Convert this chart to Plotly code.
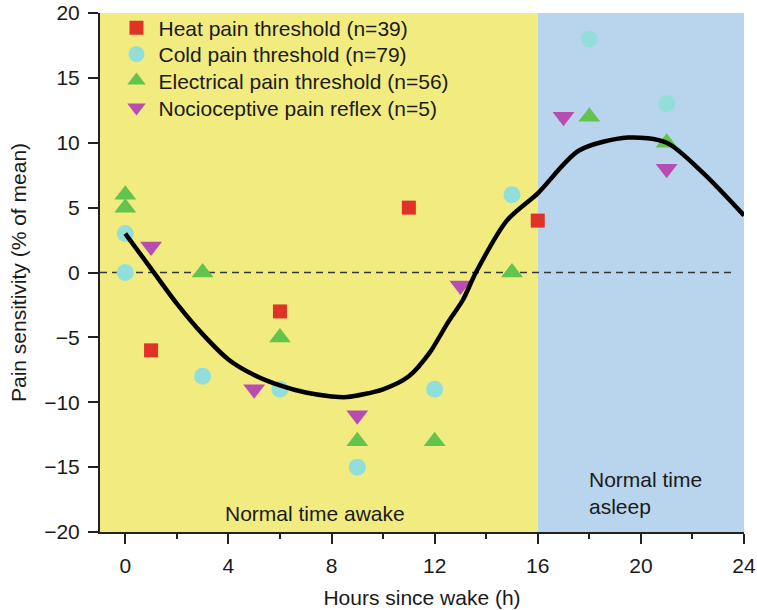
import plotly.graph_objects as go

# ---- data ----
heat_x = [1, 6, 11, 16]
heat_y = [-6, -3, 5, 4]

cold_x = [0, 0, 3, 6, 9, 12, 15, 18, 21]
cold_y = [3, 0, -8, -9, -15, -9, 6, 18, 13]

elec_x = [0, 0, 3, 6, 9, 12, 15, 18, 21]
elec_y = [6, 5, 0, -5, -13, -13, 0, 12, 10]

noci_x = [1, 5, 9, 13, 17, 21]
noci_y = [2, -9, -11, -1, 12, 8]

fit_x = [0, 1, 2, 3, 4, 5, 6, 7, 8, 8.6, 10, 11, 11.8, 12.5, 13.1, 13.6, 14.8, 16, 17.6, 19.5, 21, 22.4, 24]
fit_y = [3, 0.3, -2.4, -4.75, -6.7, -7.9, -8.7, -9.25, -9.55, -9.6, -9.0, -8.0, -6.2, -3.9, -2.1, 0, 4.0, 6.1, 9.4, 10.4, 10.0, 7.7, 4.4]

x_ticks = [0, 4, 8, 12, 16, 20, 24]
y_ticks = [-20, -15, -10, -5, 0, 5, 10, 15, 20]

awake_span = [-0.98, 16]
asleep_span = [16, 24]

FONT = "Liberation Sans, Arial, Helvetica, sans-serif"
FS = 21
TXT = "#1a1a1a"

fig = go.Figure()

fig.add_trace(go.Scatter(x=heat_x, y=heat_y, mode="markers", name="Heat pain threshold (n=39)",
                         legend="legend",
                         marker=dict(symbol="square", size=14, color="rgb(224,50,38)")))
fig.add_trace(go.Scatter(x=cold_x, y=cold_y, mode="markers", name="Cold pain threshold (n=79)",
                         legend="legend2",
                         marker=dict(symbol="circle", size=17, color="rgb(146,222,218)")))
fig.add_trace(go.Scatter(x=elec_x, y=elec_y, mode="markers", name="Electrical pain threshold (n=56)",
                         legend="legend3",
                         marker=dict(symbol="triangle-up", size=19, color="rgb(98,196,76)")))
fig.add_trace(go.Scatter(x=noci_x, y=noci_y, mode="markers", name="Nocioceptive pain reflex (n=5)",
                         legend="legend4",
                         marker=dict(symbol="triangle-down", size=19, color="rgb(184,76,176)")))
fig.add_trace(go.Scatter(x=fit_x, y=fit_y, mode="lines", showlegend=False,
                         line=dict(color="black", width=4.5, shape="spline", smoothing=0.8)))

# background regions
fig.add_shape(type="rect", xref="x", yref="y", x0=awake_span[0], x1=awake_span[1], y0=-20, y1=20,
              fillcolor="rgb(242,236,128)", line_width=0, layer="below")
fig.add_shape(type="rect", xref="x", yref="y", x0=asleep_span[0], x1=asleep_span[1], y0=-20, y1=20,
              fillcolor="rgb(185,213,238)", line_width=0, layer="below")
# zero line
fig.add_shape(type="line", xref="x", yref="y", x0=awake_span[0], x1=23.6, y0=0, y1=0,
              line=dict(color="rgb(50,55,60)", width=1.4, dash="7px,5px"), layer="below")

fig.add_annotation(x=7.37, y=-18.6, xref="x", yref="y", text="Normal time awake", showarrow=False,
                   font=dict(family=FONT, size=FS, color=TXT))
fig.add_annotation(x=17.9, y=-17.0, xref="x", yref="y", text="Normal time<br>asleep", showarrow=False,
                   xanchor="left", align="left", font=dict(family=FONT, size=FS, color=TXT))

row_centers_px = [28, 54.5, 81, 108]
plot_top, plot_h = 13, 519.3


def leg(py):
    return dict(x=0.0225, y=1 - (py - plot_top) / plot_h, xanchor="left", yanchor="middle",
                bgcolor="rgba(0,0,0,0)", borderwidth=0, itemwidth=34, itemsizing="trace",
                font=dict(family=FONT, size=FS, color=TXT))


fig.update_layout(
    width=757, height=610,
    margin=dict(l=100, r=13, t=13, b=78, autoexpand=False),
    paper_bgcolor="white", plot_bgcolor="white",
    font=dict(family=FONT, size=FS, color=TXT),
    showlegend=True,
    legend=leg(row_centers_px[0]),
    legend2=leg(row_centers_px[1]),
    legend3=leg(row_centers_px[2]),
    legend4=leg(row_centers_px[3]),
    xaxis=dict(range=[-0.98, 24], tickvals=x_ticks, ticks="outside", ticklen=10, tickwidth=2,
               tickcolor="#222", showline=True, linecolor="#222", linewidth=2, showgrid=False,
               zeroline=False, ticklabelstandoff=4, automargin=False,
               minor=dict(dtick=2, tick0=0, ticks="outside", ticklen=5, tickwidth=2, tickcolor="#222"),
               title=dict(text="Hours since wake (h)", standoff=14, font=dict(size=FS))),
    yaxis=dict(range=[-20, 20], tickvals=y_ticks,
               ticktext=[("\u2212" + str(-v)) if v < 0 else str(v) for v in y_ticks],
               ticks="outside", ticklen=10, tickwidth=2,
               tickcolor="#222", showline=True, linecolor="#222", linewidth=2, showgrid=False,
               zeroline=False, ticklabelstandoff=4, automargin=False,
               title=dict(text="Pain sensitivity (% of mean)", standoff=12, font=dict(size=FS))),
)

fig.write_html("out.html", config={"displayModeBar": False},
               post_script="document.body.style.margin='0';document.body.style.overflow='hidden';")
